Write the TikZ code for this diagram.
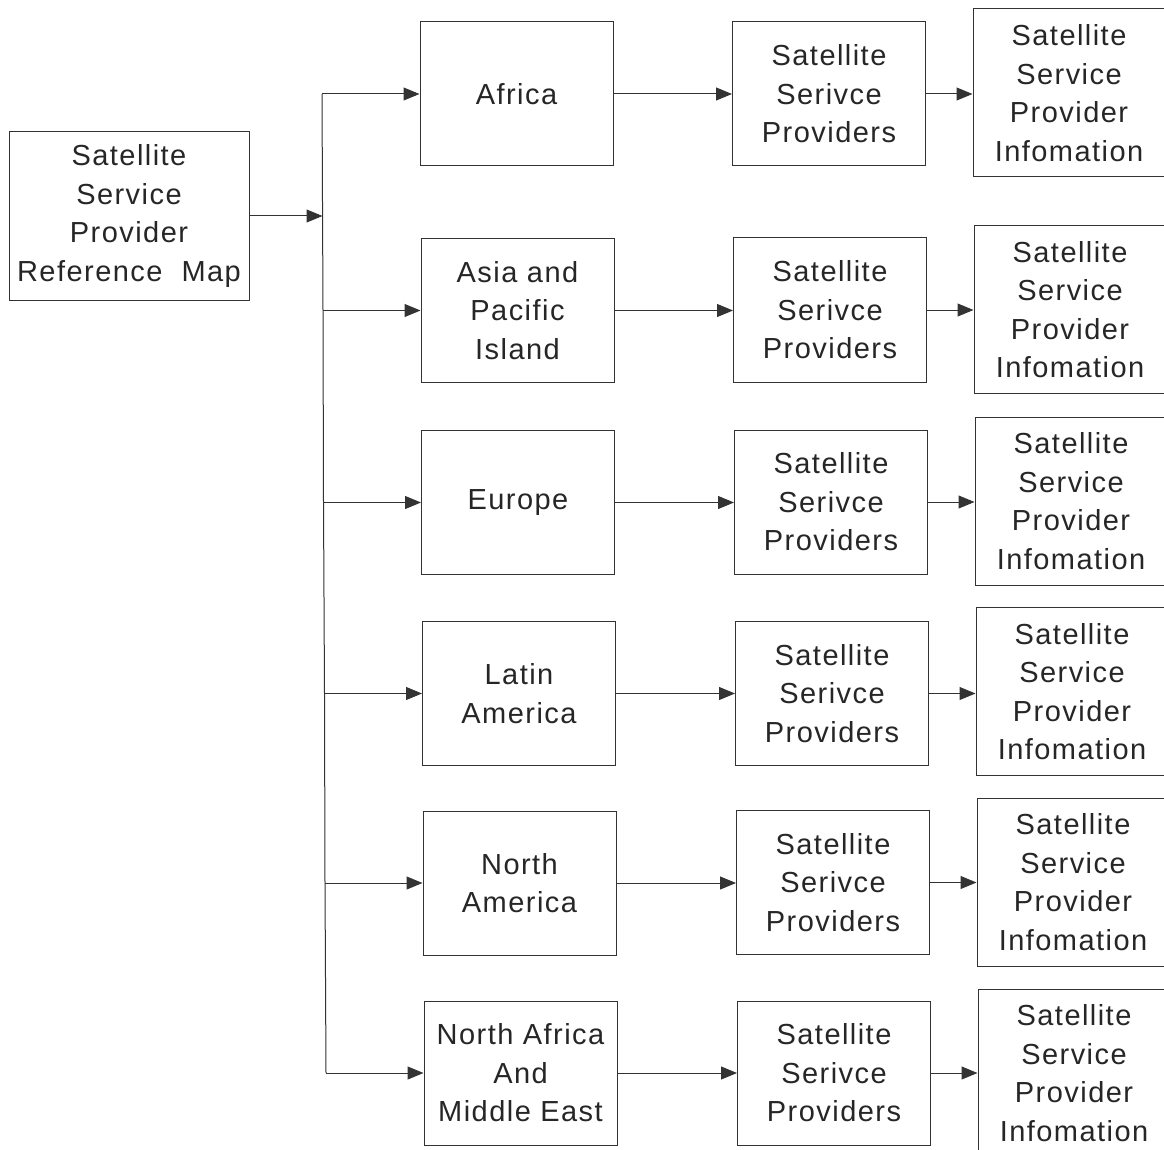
\documentclass[tikz,border=0pt]{standalone}
\usepackage{fontspec}
\setmainfont{Liberation Sans}[LetterSpace=5]
\usetikzlibrary{arrows.meta}
\begin{document}
\begin{tikzpicture}[x=1pt,y=-1pt,
  box/.style={draw=black!80, line width=1pt, inner sep=0pt, align=center,
    font=\fontsize{29}{38.5}\selectfont, text=black!85},
  lbox/.style={box, minimum width=240pt, minimum height=168pt},
  rbox/.style={box, minimum width=193pt, minimum height=144pt},
  ibox/.style={box, minimum width=192pt, minimum height=168pt},
  conn/.style={draw=black!80, line width=1pt},
  arr/.style={conn, -{Triangle[length=16pt,width=13pt]}}]
\useasboundingbox (0,0) rectangle (1164,1150);
\clip (0,0) rectangle (1164,1150);

\node[lbox] (L) at (129,216) {Satellite\\Service\\Provider\\Reference\ \ Map};

% column 1
\node[rbox] (a1) at (516.5,94) {Africa};
\node[rbox] (a2) at (517.5,310.5) {Asia and\\Pacific\\Island};
\node[rbox] (a3) at (518,502.5) {Europe};
\node[rbox] (a4) at (519,693.5) {Latin\\America};
\node[rbox] (a5) at (519.5,883) {North\\America};
\node[rbox] (a6) at (520.5,1073) {North Africa\\And\\Middle East};

% column 2
\node[rbox] (p1) at (829,94) {Satellite\\Serivce\\Providers};
\node[rbox] (p2) at (830,310) {Satellite\\Serivce\\Providers};
\node[rbox] (p3) at (831,502) {Satellite\\Serivce\\Providers};
\node[rbox] (p4) at (832,693.5) {Satellite\\Serivce\\Providers};
\node[rbox] (p5) at (833,882.5) {Satellite\\Serivce\\Providers};
\node[rbox] (p6) at (834,1073) {Satellite\\Serivce\\Providers};

% column 3
\node[ibox] (i1) at (1069,93) {Satellite\\Service\\Provider\\Infomation};
\node[ibox] (i2) at (1070,309.5) {Satellite\\Service\\Provider\\Infomation};
\node[ibox] (i3) at (1071,501) {Satellite\\Service\\Provider\\Infomation};
\node[ibox] (i4) at (1072,691.5) {Satellite\\Service\\Provider\\Infomation};
\node[ibox] (i5) at (1073,882) {Satellite\\Service\\Provider\\Infomation};
\node[ibox] (i6) at (1074,1073) {Satellite\\Service\\Provider\\Infomation};

% trunk
\coordinate (b1) at (322,94);
\coordinate (b2) at (323,310.5);
\coordinate (b3) at (323.5,502.5);
\coordinate (b4) at (324.5,693.5);
\coordinate (b5) at (325,883);
\coordinate (b6) at (326,1073);
\coordinate (tm) at (322.5,216);
\draw[conn] (b1) -- (b2) -- (b3) -- (b4) -- (b5) -- (b6);
\draw[arr] (L.east |- tm) -- (tm);

\foreach \i in {1,...,6}{
  \draw[arr] (b\i) -- (a\i.west |- b\i);
  \draw[arr] (a\i.east) -- (p\i.west |- a\i.east);
  \draw[arr] (p\i.east) -- (i\i.west |- p\i.east);
}
\end{tikzpicture}
\end{document}
